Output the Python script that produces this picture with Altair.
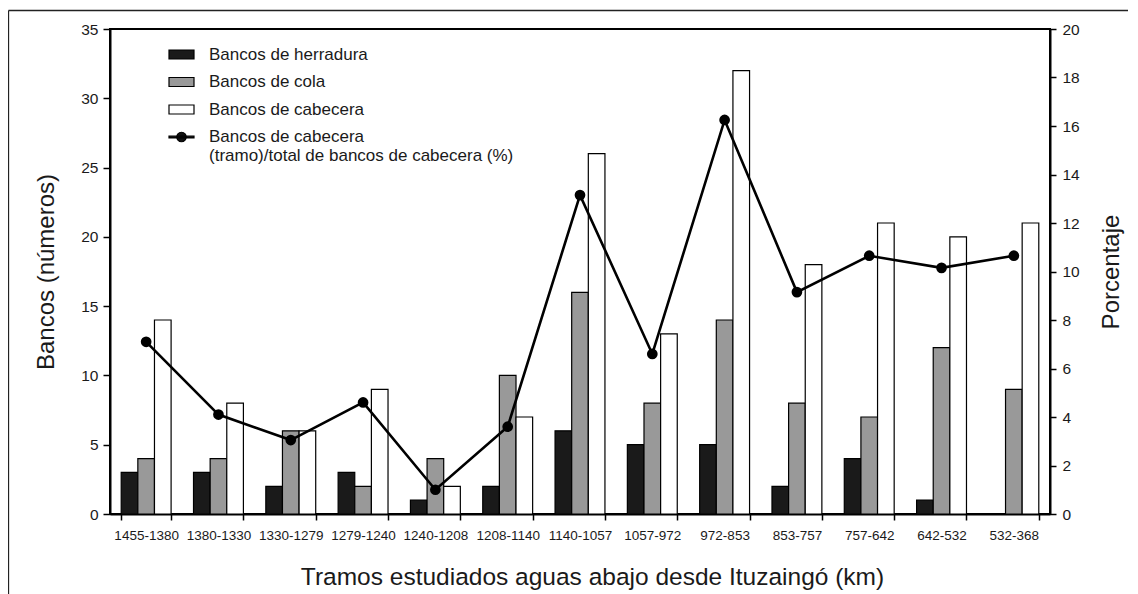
import altair as alt
import pandas as pd

tramos = ["1455-1380", "1380-1330", "1330-1279", "1279-1240", "1240-1208", "1208-1140",
          "1140-1057", "1057-972", "972-853", "853-757", "757-642", "642-532", "532-368"]
herradura = [3, 3, 2, 3, 1, 2, 6, 5, 5, 2, 4, 1, 0]
cola = [4, 4, 6, 2, 4, 10, 16, 8, 14, 8, 7, 12, 9]
cabecera = [14, 8, 6, 9, 2, 7, 26, 13, 32, 18, 21, 20, 21]
porcentaje = [7.1, 4.1, 3.05, 4.6, 1.0, 3.6, 13.15, 6.6, 16.25, 9.15, 10.65, 10.15, 10.65]

series_bars = ["Bancos de herradura", "Bancos de cola", "Bancos de cabecera"]
serie_line = "Bancos de cabecera (tramo)/total de bancos de cabecera (%)"
legend_domain = series_bars + [serie_line]
colors = ["#1a1a1a", "#999999", "#ffffff", "#111111"]
rect_path = "M-1,-0.36H1V0.36H-1Z"
linedot_path = "M-1,-0.07H1V0.07H-1Z M-0.38,0A0.38,0.38,0,1,1,0.38,0A0.38,0.38,0,1,1,-0.38,0Z"
shapes = [rect_path, rect_path, rect_path, linedot_path]

FONT = "Liberation Sans"

rows = []
for i, t in enumerate(tramos):
    for s, vals in zip(series_bars, [herradura, cola, cabecera]):
        rows.append({"tramo": t, "serie": s, "valor": vals[i]})
df_bars = pd.DataFrame(rows)
df_line = pd.DataFrame({"tramo": tramos, "pct": porcentaje})
df_legend = pd.DataFrame({"serie": legend_domain})

x_enc = alt.X("tramo:N", sort=tramos,
              scale=alt.Scale(paddingInner=0.31, paddingOuter=0.155),
              axis=alt.Axis(title="Tramos estudiados aguas abajo desde Ituzaingó (km)",
                            labelAngle=0, labelFontSize=13.5, labelPadding=8,
                            tickBand="extent", tickSize=6, titlePadding=24,
                            titleFontSize=24.5, titleX=482, titleAlign="center"))

bars = alt.Chart(df_bars).mark_bar(stroke="black", strokeWidth=1.2).encode(
    x=x_enc,
    xOffset=alt.XOffset("serie:N", sort=series_bars,
                        scale=alt.Scale(domain=series_bars, paddingInner=0, paddingOuter=0)),
    y=alt.Y("valor:Q", scale=alt.Scale(domain=[0, 35], nice=False),
            axis=alt.Axis(orient="left", values=list(range(0, 36, 5)),
                          title="Bancos (números)", labelFontSize=15.5,
                          labelPadding=5, tickSize=7, titlePadding=22)),
    color=alt.Color("serie:N", scale=alt.Scale(domain=series_bars, range=colors[:3]), legend=None),
)

line = alt.Chart(df_line).mark_line(
    color="black", strokeWidth=2.6,
    point=alt.OverlayMarkDef(filled=True, color="black", size=115, opacity=1),
).encode(
    x=alt.X("tramo:N", sort=tramos),
    y=alt.Y("pct:Q", scale=alt.Scale(domain=[0, 20], nice=False),
            axis=alt.Axis(orient="right", values=list(range(0, 21, 2)),
                          title="Porcentaje", titleAngle=270, titleBaseline="top",
                          labelFontSize=15.5, labelPadding=6, tickSize=6, titlePadding=20)),
)

leg_def = alt.Legend(
    title=None, orient="none", legendX=58, legendY=12, symbolSize=625,
    labelFont=FONT, labelFontSize=17, labelColor="#1a1a1a", labelOffset=14,
    labelLimit=0, rowPadding=5.5, symbolStrokeColor="black", symbolStrokeWidth=1.2,
    labelExpr=("datum.label == '" + serie_line + "' ? "
               "['Bancos de cabecera', '(tramo)/total de bancos de cabecera (%)'] : datum.label"),
)

leg = alt.Chart(df_legend).mark_point(filled=True, stroke="black", strokeWidth=1.2, opacity=1).encode(
    fill=alt.Fill("serie:N", scale=alt.Scale(domain=legend_domain, range=colors), legend=leg_def),
    shape=alt.Shape("serie:N", scale=alt.Scale(domain=legend_domain, range=shapes), legend=leg_def),
    stroke=alt.Stroke("serie:N", scale=alt.Scale(domain=legend_domain, range=["#000000"] * 4),
                      legend=leg_def),
).transform_filter("false")

one = pd.DataFrame({"a": [0]})
frame_v = alt.Chart(one).mark_rule(color="#222222", strokeWidth=1.3).encode(
    x=alt.value(-101.5), y=alt.value(-18.5), y2=alt.value(580))
frame_h = alt.Chart(one).mark_rule(color="#222222", strokeWidth=1.3).encode(
    x=alt.value(-101.5), x2=alt.value(1025), y=alt.value(-18.5))

chart = alt.layer(bars, line, leg, frame_v, frame_h).resolve_scale(
    y="independent"
).properties(
    width=940, height=485,
    padding={"left": 102, "top": 21, "right": 78, "bottom": 80},
    autosize=alt.AutoSizeParams(type="none"),
).configure_view(
    stroke="black", strokeWidth=2
).configure_axis(
    domainColor="black", domainWidth=2, tickColor="black", tickWidth=1.5,
    labelFont=FONT, labelColor="#1a1a1a", titleFont=FONT, titleFontSize=24,
    titleFontWeight="normal", titleColor="#1a1a1a", grid=False,
)

chart.save("out.html", embed_options={"renderer": "svg", "actions": False})
